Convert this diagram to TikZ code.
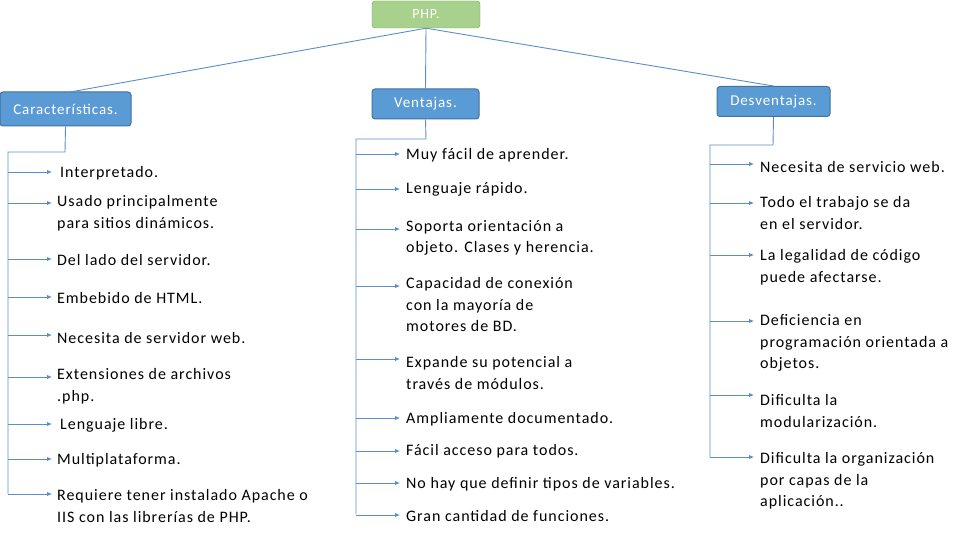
\documentclass[tikz,border=0pt]{standalone}
\usepackage{fontspec}
\setmainfont{Carlito}[LetterSpace=6]
\begin{document}
\begin{tikzpicture}[x=1pt,y=-1pt,
 line/.style={draw=lc,line width=0.9pt},
 arr/.style={line,-{Latex[length=5pt,width=4.5pt]}},
 blue/.style={draw=bd,fill=bf,rounded corners=3pt,line width=1pt,text=white,font=\fontsize{15}{17}\selectfont,inner sep=0pt,minimum height=30pt},
 itm/.style={anchor=west,align=left,font=\fontsize{16}{21.5}\selectfont,inner sep=0pt}]
\usetikzlibrary{arrows.meta}
\definecolor{lc}{HTML}{5B8DC8}
\definecolor{bd}{HTML}{41719C}
\definecolor{bf}{HTML}{5B9BD5}
\definecolor{gf}{HTML}{A9D18E}
\definecolor{gd}{HTML}{70AD47}
\useasboundingbox (0,0) rectangle (960,540);
\node[draw=gd,fill=gf,rounded corners=3pt,text=white,minimum width=108pt,minimum height=27pt,inner sep=0pt,font=\fontsize{14}{16}\selectfont] (php) at (426,14.5) {PHP.};
\node[blue,minimum width=131pt,minimum height=34pt] (car) at (65.5,109) {Características.};
\node[blue,minimum width=107pt] (ven) at (425.5,104) {Ventajas.};
\node[blue,minimum width=113pt] (des) at (773.5,101.5) {Desventajas.};
\draw[line] (php.south) -- (70,92);
\draw[line] (php.south) -- (ven.north);
\draw[line] (php.south) -- (des.north);
% left
\coordinate (c1) at (65,152); \coordinate (c2) at (8,152); \coordinate (c3) at (8,494);
\draw[line] (car.south) -- (c1) -- (c2) -- (c3);
\foreach \y/\t/\n [count=\i] in {
 173/{Interpretado.}/60,
 213/{Usado principalmente\\para sitios dinámicos.}/57,
 260/{Del lado del servidor.}/57,
 298/{Embebido de HTML.}/57,
 338/{Necesita de servidor web.}/57,
 386/{Extensiones de archivos\\.php.}/57,
 425/{Lenguaje libre.}/60,
 460/{Multiplataforma.}/57,
 506/{Requiere tener instalado Apache o\\IIS con las librerías de PHP.}/57}{
 \node[itm] (l\i) at (\n,\y) {\t};
 \coordinate (la\i) at (8,\y-\ifnum\i=2 10\else\ifnum\i=6 9\else\ifnum\i=9 12\else\ifnum\i=5 3\else 1\fi\fi\fi\fi);
 \draw[arr] (la\i) -- ++(44,0);
}
% middle
\draw[line] (ven.south) -- (426,139) -- (356,139) -- (356,514);
\foreach \y/\t/\o [count=\i] in {
 155/{Muy fácil de aprender.}/1,
 189/{Lenguaje rápido.}/0,
 238/{Soporta orientación a\\objeto. Clases y herencia.}/9,
 305/{Capacidad de conexión\\con la mayoría de\\motores de BD.}/19,
 373/{Expande su potencial a\\través de módulos.}/14,
 419/{Ampliamente documentado.}/1,
 451/{Fácil acceso para todos.}/0,
 484/{No hay que definir tipos de variables.}/1,
 516/{Gran cantidad de funciones.}/1}{
 \node[itm] (m\i) at (406,\y) {\t};
 \coordinate (ma\i) at (356,\y-\o);
 \draw[arr] (ma\i) -- ++(44,0);
}
% right
\draw[line] (des.south) -- (773,145) -- (710,145) -- (710,457);
\foreach \y/\t/\o [count=\i] in {
 167/{Necesita de servicio web.}/3,
 213/{Todo el trabajo se da\\en el servidor.}/10,
 267/{La legalidad de código\\puede afectarse.}/12,
 343/{Deficiencia en\\programación orientada a\\objetos.}/22,
 411/{Dificulta la\\modularización.}/16,
 481/{Dificulta la organización\\por capas de la\\aplicación..}/24}{
 \node[itm] (r\i) at (760,\y) {\t};
 \coordinate (ra\i) at (710,\y-\o);
 \draw[arr] (ra\i) -- ++(44,0);
}
\end{tikzpicture}
\end{document}
